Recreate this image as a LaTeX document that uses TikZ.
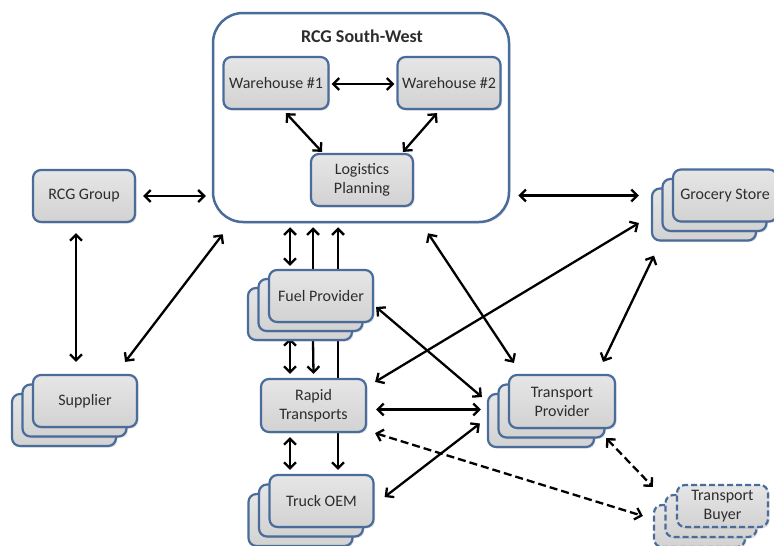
\documentclass[tikz,border=0pt]{standalone}
\usepackage{fontspec}
\setmainfont{Carlito}
\usetikzlibrary{arrows.meta,calc,shadows}
\definecolor{bordc}{RGB}{74,108,155}
\definecolor{boxtop}{RGB}{230,230,230}
\definecolor{boxbot}{RGB}{210,210,210}
\definecolor{txt}{RGB}{45,45,45}
\pgfdeclarelayer{bg}
\pgfsetlayers{bg,main}
\tikzset{
  box/.style={draw=bordc, line width=2.2pt, top color=boxtop, bottom color=boxbot,
    rounded corners=8pt, minimum width=104pt, minimum height=52pt, align=center,
    text=txt, font=\fontsize{16}{19}\selectfont, inner sep=2pt,
    drop shadow={opacity=0.25, shadow xshift=1.5pt, shadow yshift=-1.5pt}},
  dbox/.style={box, dash pattern=on 6pt off 3pt, minimum width=91pt, minimum height=42pt},
  tip/.tip={Straight Barb[length=6pt,width=12pt]},
  arr/.style={line width=2.3pt, tip-tip},
  sarr/.style={line width=2.3pt, -tip},
  darr/.style={arr, dash pattern=on 8pt off 4pt},
}
\begin{document}
\begin{tikzpicture}[x=1pt,y=-1pt]
\useasboundingbox (0,0) rectangle (774,546);
% main container
\node[draw=bordc, line width=2.5pt, fill=white, rounded corners=30pt,
  minimum width=296pt, minimum height=209pt,
  drop shadow={opacity=0.2, shadow xshift=1.5pt, shadow yshift=-1.5pt}] (sw) at (361,117.5) {};
\node[font=\fontsize{18}{21}\selectfont\bfseries, text=txt] (swtitle) at (362,36) {RCG South-West};
\node[box, minimum width=105pt] (w1) at (276,83) {Warehouse \#1};
\node[box, minimum width=103pt] (w2) at (449,83) {Warehouse \#2};
\node[box, minimum width=102pt] (lp) at (362,180) {Logistics\\Planning};
% left
\node[box, minimum width=102pt] (rg) at (84,196) {RCG Group};
\node[box] (supb2) at (64,420) {};
\node[box] (supb1) at (74.5,410.5) {};
\node[box] (sup) at (85,401) {Supplier};
% middle column
\node[box] (fuelb2) at (300,314) {};
\node[box] (fuelb1) at (310.5,305) {};
\node[box] (fuel) at (321,296) {Fuel Provider};
\node[box, minimum width=105pt, minimum height=53pt] (rapid) at (313.5,405.5) {Rapid\\Transports};
\node[box] (truckb2) at (300.5,520) {};
\node[box] (truckb1) at (311,510.5) {};
\node[box] (truck) at (321.5,501) {Truck OEM};
% right
\node[box] (grocb2) at (704,214.5) {};
\node[box] (grocb1) at (714.5,205) {};
\node[box] (groc) at (725,195.5) {Grocery Store};
\node[box, minimum width=106pt, minimum height=53pt] (tpb2) at (541,420.5) {};
\node[box, minimum width=106pt, minimum height=53pt] (tpb1) at (551.5,411) {};
\node[box, minimum width=106pt, minimum height=53pt] (tp) at (562,401.5) {Transport\\Provider};
\node[dbox] (tbb2) at (699.5,526) {};
\node[dbox] (tbb1) at (711,516) {};
\node[dbox] (tb) at (722.5,506) {Transport\\Buyer};

% inside container
\draw[arr] ($(w1.east)+(2,1)$) -- ($(w2.west)+(-2,1)$);
\draw[arr] ($(w1.south)+(10,3)$) -- ($(lp.north)+(-40,-1)$);
\draw[arr] ($(w2.south)+(-12,3)$) -- ($(lp.north)+(41,-1)$);

\begin{pgfonlayer}{bg}
% left side
\draw[arr] ($(rg.east)+(7,0)$) -- ($(rg.east -| sw.west)+(-6,0)$);
\draw[arr] ($(rg.south)+(-8,10)$) -- ($(sup.north)+(-9,-12)$);
\draw[arr] ($(sup.north east)+(-13,-12)$) -- ($(sw.south west)+(11,11)$);
% container to grocery
\draw[arr] ($(sw.east |- groc.west)+(8,0)$) -- ($(grocb2.west |- groc.west)+(-12,0)$);
% vertical column
\draw[arr] ($(fuel.north)+(-31,-3)$) -- ($(fuel.north |- sw.south)+(-31,4)$);
\draw[sarr] ($(fuel.north)+(-8,0)$) -- ($(fuel.north |- sw.south)+(-8,4)$);
\draw[sarr] ($(rapid.north)+(24.5,0)$) -- ($(rapid.north |- sw.south)+(24.5,4)$);
\draw[arr] ($(fuelb2.south)+(-10,-3)$) -- ($(rapid.north)+(-23.5,-4)$);
\draw[sarr] ($(fuelb2.south)+(13,0)$) -- ($(rapid.north)+(0,-4)$);
\draw[arr] ($(rapid.south)+(-23.5,4)$) -- ($(truck.north)+(-31.5,-4)$);
\draw[sarr] ($(rapid.south)+(24.5,0)$) -- ($(truck.north)+(16.5,-4)$);
% crossing connectors
\draw[arr] ($(sw.south)+(67,10)$) -- ($(tp.north)+(-48,-11)$);
\draw[arr] ($(grocb2.west)+(-12,8.5)$) -- ($(rapid.north east)+(8,4)$);
\draw[arr] ($(grocb2.south)+(-50,14)$) -- ($(tp.north)+(41,-12)$);
\draw[arr] ($(fuel.east)+(2,11)$) -- ($(tpb2.west)+(-5,-23.5)$);
\draw[arr] ($(rapid.east)+(9,4)$) -- ($(tpb2.west |- rapid.east)+(-6,4)$);
\draw[arr] ($(truck.east)+(10,-4)$) -- ($(tpb2.west)+(-7,3)$);
% dashed connectors
\draw[darr] ($(rapid.south east)+(8,0)$) -- ($(tbb2.west)+(-10,-10)$);
\draw[darr] ($(tp.south east)+(-10,9)$) -- ($(tbb2.north west)+(0,-17)$);
\end{pgfonlayer}
\end{tikzpicture}
\end{document}
